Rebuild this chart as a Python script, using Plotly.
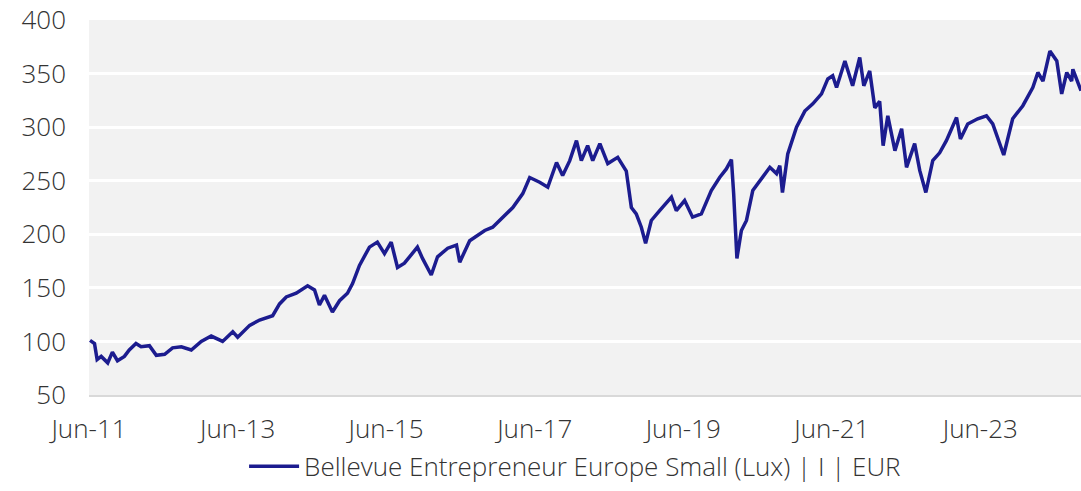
import plotly.graph_objects as go

dates = [
    "2011-06-06", "2011-06-28", "2011-07-11", "2011-07-31", "2011-09-01", "2011-09-24",
    "2011-10-19", "2011-11-22", "2011-12-16", "2012-01-18", "2012-02-12", "2012-03-24",
    "2012-04-27", "2012-06-07", "2012-07-16", "2012-08-28", "2012-10-16", "2012-12-04",
    "2013-01-22", "2013-03-19", "2013-05-08", "2013-06-01", "2013-07-30", "2013-09-17",
    "2013-11-20", "2013-12-24", "2014-01-26", "2014-03-16", "2014-05-11", "2014-06-14",
    "2014-07-08", "2014-08-02", "2014-09-10", "2014-10-15", "2014-11-23", "2014-12-18",
    "2015-01-21", "2015-03-11", "2015-04-19", "2015-05-24", "2015-06-26", "2015-07-27",
    "2015-08-30", "2015-11-02", "2015-11-27", "2016-01-09", "2016-02-09", "2016-03-30",
    "2016-05-12", "2016-05-28", "2016-07-16", "2016-09-28", "2016-11-06", "2016-12-19",
    "2017-02-13", "2017-04-03", "2017-05-07", "2017-06-25", "2017-08-04", "2017-09-16",
    "2017-10-16", "2017-11-20", "2017-12-23", "2018-01-16", "2018-02-16", "2018-03-13",
    "2018-04-17", "2018-05-26", "2018-07-14", "2018-08-25", "2018-09-19", "2018-10-13",
    "2018-11-07", "2018-11-28", "2018-12-26", "2019-02-05", "2019-04-04", "2019-04-28",
    "2019-06-08", "2019-07-17", "2019-08-29", "2019-10-17", "2019-11-27", "2019-12-30",
    "2020-01-24", "2020-02-04", "2020-02-20", "2020-03-13", "2020-04-07", "2020-05-08",
    "2020-06-27", "2020-07-31", "2020-09-02", "2020-09-18", "2020-10-01", "2020-10-27",
    "2020-12-09", "2021-01-19", "2021-02-27", "2021-04-11", "2021-05-12", "2021-06-05",
    "2021-06-24", "2021-08-04", "2021-09-11", "2021-10-16", "2021-11-05", "2021-12-04",
    "2021-12-29", "2022-01-22", "2022-02-08", "2022-03-03", "2022-04-07", "2022-05-10",
    "2022-06-03", "2022-07-13", "2022-08-07", "2022-09-06", "2022-10-10", "2022-11-13",
    "2022-12-16", "2023-02-04", "2023-02-23", "2023-03-31", "2023-05-19", "2023-07-01",
    "2023-08-01", "2023-09-24", "2023-11-07", "2023-12-27", "2024-02-14", "2024-03-10",
    "2024-04-04", "2024-05-08", "2024-06-11", "2024-07-05", "2024-07-30", "2024-08-23",
    "2024-08-29", "2024-09-23", "2024-10-08",
]

values = [
    101, 98, 83, 86, 80, 90,
    82, 86, 92, 98, 95, 96,
    87, 88, 94, 95, 92, 100,
    105, 100, 109, 104, 115, 120,
    124, 135, 141.5, 145, 152, 148,
    134, 143, 127.5, 138, 145, 154,
    171, 188, 192.7, 182, 192.7, 169,
    173, 188, 177.5, 162, 179, 187,
    190, 174, 194, 203.6, 206.6, 214.6,
    225, 238, 253, 248.6, 244, 267,
    254.8, 268.7, 287.4, 268.7, 282.7, 268.7,
    284.6, 266, 271.8, 259, 225, 219,
    206.6, 191.5, 212.9, 222, 234.6, 222,
    231.5, 216, 219, 240.8, 253, 261,
    269.7, 238, 177.5, 203.6, 212.9, 240.8,
    253, 262.5, 256.6, 264, 239, 275,
    300, 315, 321.7, 331, 345, 348,
    337, 361.8, 338.6, 365, 338.6, 352.5,
    318, 324, 282.7, 310.6, 278, 298.5,
    262.5, 284.6, 259.6, 239, 268.7, 276,
    287.4, 309, 289, 303, 307.8, 310.6,
    303, 274, 307.8, 320, 337, 351,
    343, 371, 361.8, 331, 351, 343,
    354, 340, 334,
]

series_name = "Bellevue Entrepreneur Europe Small (Lux) | I | EUR"
y_ticks = [50, 100, 150, 200, 250, 300, 350, 400]

FONT = "Open Sans"
TEXT = "#333333"
tick_font = dict(family=FONT, size=26, color=TEXT, weight=300)
legend_font = dict(family=FONT, size=26, color=TEXT, weight=300)

fig = go.Figure()
fig.add_trace(go.Scatter(
    x=dates, y=values, mode="lines", name=series_name,
    line=dict(color="#1c1c8f", width=3.5),
))

fig.update_layout(
    width=1081, height=491,
    margin=dict(l=89, r=0, t=20, b=96, autoexpand=False),
    paper_bgcolor="white",
    plot_bgcolor="#f2f2f2",
    font=dict(family=FONT, size=24, color=TEXT, weight=300),
    showlegend=True,
    legend=dict(orientation="h", x=0.49, xanchor="center", y=-0.253, yanchor="bottom",
                font=legend_font, itemwidth=50),
)

fig.update_xaxes(
    type="date", automargin=False,
    range=["2011-06-01", "2024-10-08"],
    tick0="2011-06-01", dtick="M24", tickformat="%b-%y",
    showgrid=False, zeroline=False,
    showline=True, linecolor="#d9d9d9", linewidth=2,
    ticks="", ticklabelstandoff=10,
    tickfont=tick_font,
)
fig.update_yaxes(
    range=[50, 400], tickvals=y_ticks, automargin=False,
    showgrid=True, gridcolor="white", gridwidth=3,
    zeroline=False, showline=False,
    ticks="", ticklabelstandoff=22,
    tickfont=tick_font,
)

fig.write_html("out.html", config={"displayModeBar": False},
               post_script="document.body.style.margin='0';document.body.style.overflow='hidden';")
